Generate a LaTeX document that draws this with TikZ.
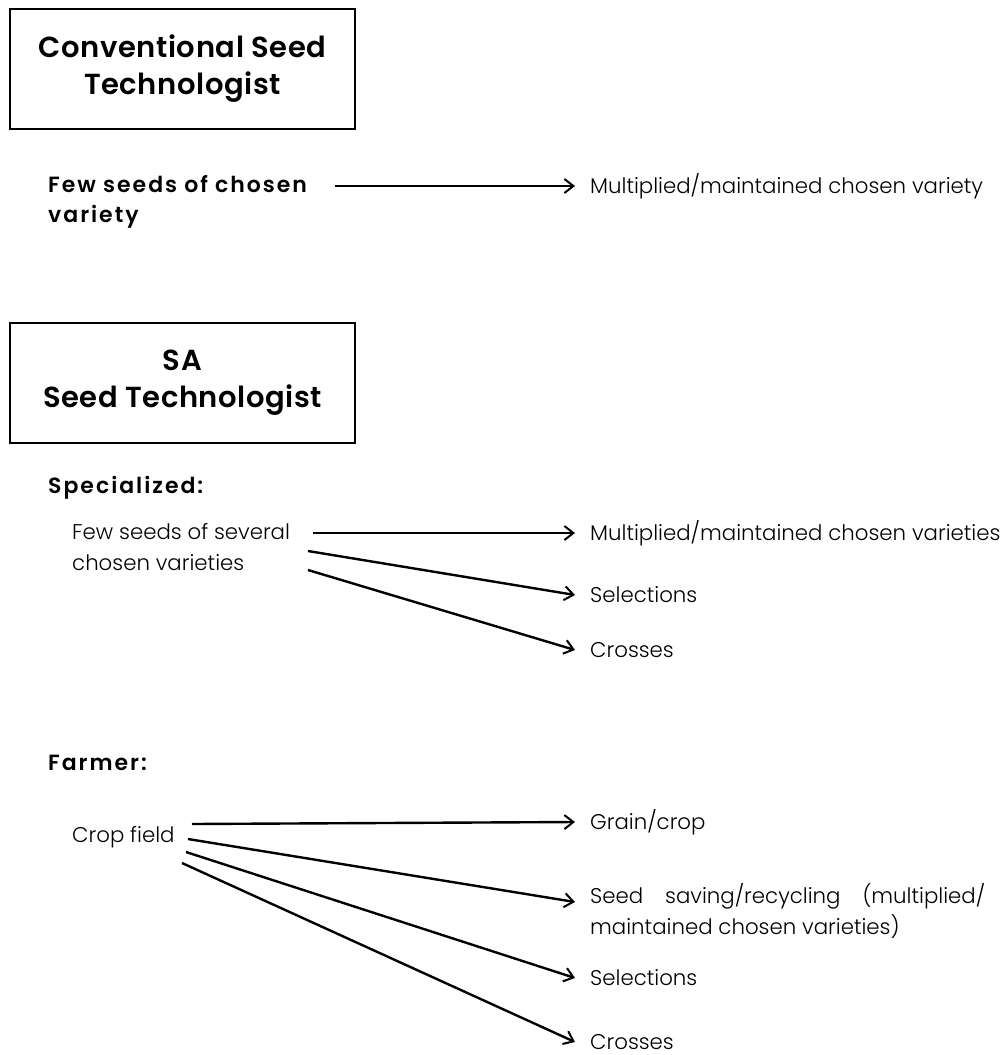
\documentclass[tikz,border=0pt]{standalone}
\usepackage{fontspec}
\setmainfont{Poppins Light}
\newfontfamily\headfont[LetterSpace=2]{Poppins SemiBold}
\newfontfamily\labelfont[LetterSpace=9]{Poppins SemiBold}
\usetikzlibrary{arrows.meta}

\tikzset{
  titlebox/.style={draw, line width=1.8pt, minimum width=345pt, minimum height=120pt,
    align=center, inner sep=0pt, font=\headfont\fontsize{29}{37}\selectfont},
  head/.style={anchor=west, inner sep=0pt, align=left,
    font=\labelfont\fontsize{22}{30}\selectfont},
  body/.style={anchor=west, inner sep=0pt, align=left,
    font=\fontsize{21.3}{31}\selectfont},
  arr/.style={line width=2.4pt, -{Straight Barb[length=9pt,width=14pt,line width=2pt]}},
}

\begin{document}
\begin{tikzpicture}[x=1pt,y=-1pt]
  \useasboundingbox (0,0) rectangle (1007,1055);

  % Conventional seed technologist
  \node[titlebox] (conv) at (182.5,69) {Conventional Seed\\Technologist};
  \node[head] (few1) at (48,202) {Few seeds of chosen\\variety};
  \node[body] (mult1) at (590,186) {Multiplied/maintained chosen variety};
  \coordinate (s1) at (335,186);
  \draw[arr] (s1) -- ([xshift=-15pt]mult1.west);

  % SA seed technologist
  \node[titlebox] (sa) at (182.5,383) {SA\\Seed Technologist};
  \node[head] (spec) at (48,488) {Specialized:};
  \node[body] (few2) at (72,547) {Few seeds of several\\chosen varieties};
  \node[body] (mult2) at (590,533) {Multiplied/maintained chosen varieties};
  \node[body] (sel2) at (590,595) {Selections};
  \node[body] (cross2) at (590,650) {Crosses};
  \coordinate (s2a) at (313,533);
  \coordinate (s2b) at (308,551);
  \coordinate (s2c) at (308,570);
  \draw[arr] (s2a) -- ([xshift=-15pt]mult2.west);
  \draw[arr] (s2b) -- ([xshift=-15pt]sel2.west);
  \draw[arr] (s2c) -- ([xshift=-15pt]cross2.west);

  % Farmer
  \node[head] (farm) at (48,763) {Farmer:};
  \node[body] (crop) at (72,837) {Crop field};
  \node[body] (grain) at (590,822) {Grain/crop};
  \node[body] (save) at (590,911)
    {\makebox[395pt][s]{Seed saving/recycling (multiplied/}\\maintained chosen varieties)};
  \node[body] (sel3) at (590,978) {Selections};
  \node[body] (cross3) at (590,1042) {Crosses};
  \coordinate (f1) at (192,824);
  \coordinate (f2) at (188,839);
  \coordinate (f3) at (186,852);
  \coordinate (f4) at (182,863);
  \coordinate (savetip) at ([xshift=-15pt,yshift=9pt]save.west);
  \draw[arr] (f1) -- ([xshift=-15pt]grain.west);
  \draw[arr] (f2) -- (savetip);
  \draw[arr] (f3) -- ([xshift=-15pt]sel3.west);
  \draw[arr] (f4) -- ([xshift=-15pt]cross3.west);
\end{tikzpicture}
\end{document}
